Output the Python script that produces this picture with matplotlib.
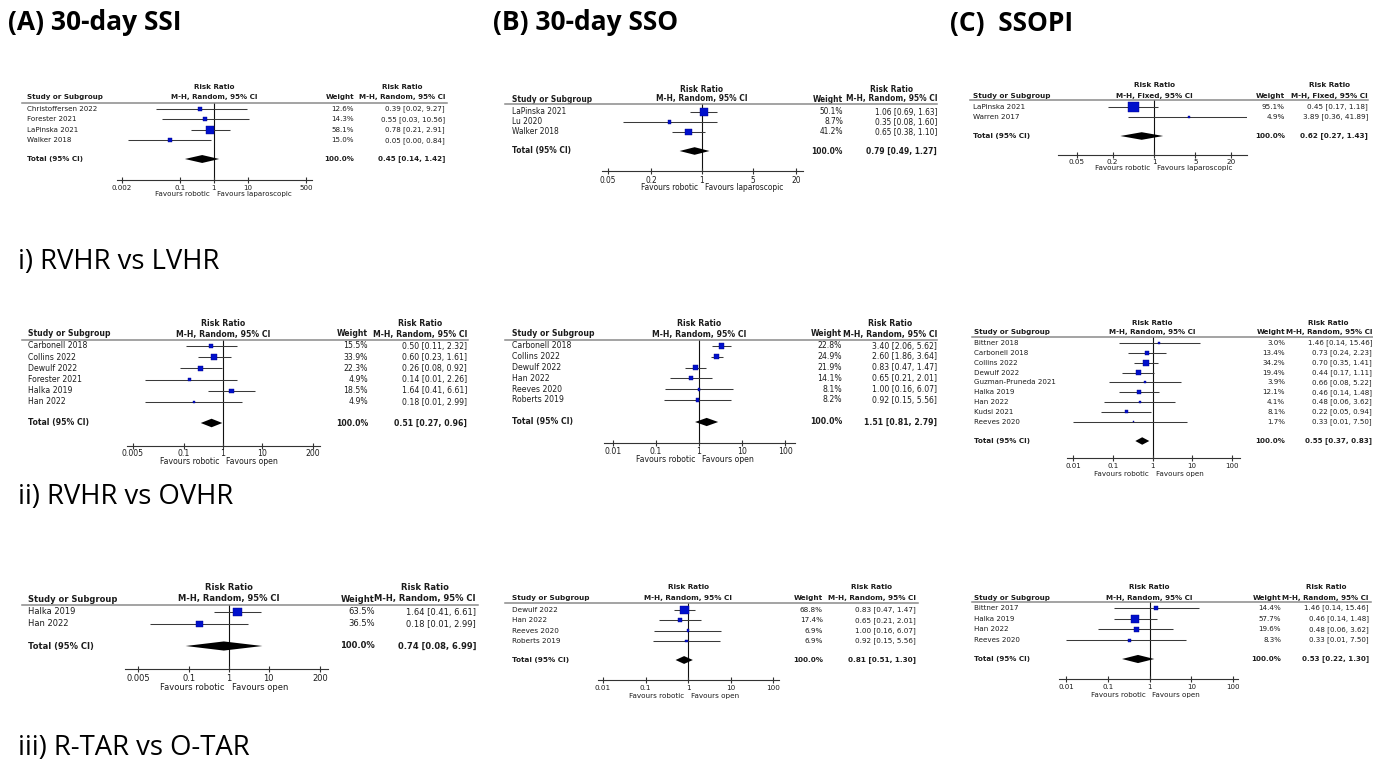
import numpy as np
import matplotlib
matplotlib.use('Agg')
import matplotlib.pyplot as plt
from matplotlib.transforms import blended_transform_factory
from matplotlib.lines import Line2D

W, H = 1373, 764

# ---------------- data ----------------
# (A) 30-day SSI
ssi_lap_studies = ["Christoffersen 2022", "Forester 2021", "LaPinska 2021", "Walker 2018"]
ssi_lap_weight = [12.6, 14.3, 58.1, 15.0]
ssi_lap_rr = [0.39, 0.55, 0.78, 0.05]
ssi_lap_lo = [0.02, 0.03, 0.21, 0.003]
ssi_lap_hi = [9.27, 10.56, 2.91, 0.84]
ssi_lap_total = (0.45, 0.14, 1.42)

ssi_open_studies = ["Carbonell 2018", "Collins 2022", "Dewulf 2022", "Forester 2021", "Halka 2019", "Han 2022"]
ssi_open_weight = [15.5, 33.9, 22.3, 4.9, 18.5, 4.9]
ssi_open_rr = [0.50, 0.60, 0.26, 0.14, 1.64, 0.18]
ssi_open_lo = [0.11, 0.23, 0.08, 0.01, 0.41, 0.01]
ssi_open_hi = [2.32, 1.61, 0.92, 2.26, 6.61, 2.99]
ssi_open_total = (0.51, 0.27, 0.96)

ssi_tar_studies = ["Halka 2019", "Han 2022"]
ssi_tar_weight = [63.5, 36.5]
ssi_tar_rr = [1.64, 0.18]
ssi_tar_lo = [0.41, 0.01]
ssi_tar_hi = [6.61, 2.99]
ssi_tar_total = (0.74, 0.08, 6.99)

# (B) 30-day SSO
sso_lap_studies = ["LaPinska 2021", "Lu 2020", "Walker 2018"]
sso_lap_weight = [50.1, 8.7, 41.2]
sso_lap_rr = [1.06, 0.35, 0.65]
sso_lap_lo = [0.69, 0.08, 0.38]
sso_lap_hi = [1.63, 1.60, 1.10]
sso_lap_total = (0.79, 0.49, 1.27)

sso_open_studies = ["Carbonell 2018", "Collins 2022", "Dewulf 2022", "Han 2022", "Reeves 2020", "Roberts 2019"]
sso_open_weight = [22.8, 24.9, 21.9, 14.1, 8.1, 8.2]
sso_open_rr = [3.40, 2.60, 0.83, 0.65, 1.00, 0.92]
sso_open_lo = [2.06, 1.86, 0.47, 0.21, 0.16, 0.15]
sso_open_hi = [5.62, 3.64, 1.47, 2.01, 6.07, 5.56]
sso_open_total = (1.51, 0.81, 2.79)

sso_tar_studies = ["Dewulf 2022", "Han 2022", "Reeves 2020", "Roberts 2019"]
sso_tar_weight = [68.8, 17.4, 6.9, 6.9]
sso_tar_rr = [0.83, 0.65, 1.00, 0.92]
sso_tar_lo = [0.47, 0.21, 0.16, 0.15]
sso_tar_hi = [1.47, 2.01, 6.07, 5.56]
sso_tar_total = (0.81, 0.51, 1.30)

# (C) SSOPI
ssopi_lap_studies = ["LaPinska 2021", "Warren 2017"]
ssopi_lap_weight = [95.1, 4.9]
ssopi_lap_rr = [0.45, 3.89]
ssopi_lap_lo = [0.17, 0.36]
ssopi_lap_hi = [1.18, 41.89]
ssopi_lap_total = (0.62, 0.27, 1.43)

ssopi_open_studies = ["Bittner 2018", "Carbonell 2018", "Collins 2022", "Dewulf 2022", "Guzman-Pruneda 2021",
                      "Halka 2019", "Han 2022", "Kudsi 2021", "Reeves 2020"]
ssopi_open_weight = [3.0, 13.4, 34.2, 19.4, 3.9, 12.1, 4.1, 8.1, 1.7]
ssopi_open_rr = [1.46, 0.73, 0.70, 0.44, 0.66, 0.46, 0.48, 0.22, 0.33]
ssopi_open_lo = [0.14, 0.24, 0.35, 0.17, 0.08, 0.14, 0.06, 0.05, 0.01]
ssopi_open_hi = [15.46, 2.23, 1.41, 1.11, 5.22, 1.48, 3.62, 0.94, 7.50]
ssopi_open_total = (0.55, 0.37, 0.83)

ssopi_tar_studies = ["Bittner 2017", "Halka 2019", "Han 2022", "Reeves 2020"]
ssopi_tar_weight = [14.4, 57.7, 19.6, 8.3]
ssopi_tar_rr = [1.46, 0.46, 0.48, 0.33]
ssopi_tar_lo = [0.14, 0.14, 0.06, 0.01]
ssopi_tar_hi = [15.46, 1.48, 3.62, 7.50]
ssopi_tar_total = (0.53, 0.22, 1.30)

ticks_a = [0.002, 0.1, 1, 10, 500]
ticks_b = [0.005, 0.1, 1, 10, 200]
ticks_c = [0.05, 0.2, 1, 5, 20]
ticks_d = [0.01, 0.1, 1, 10, 100]
tick_labels_a = ["0.002", "0.1", "1", "10", "500"]
tick_labels_b = ["0.005", "0.1", "1", "10", "200"]
tick_labels_c = ["0.05", "0.2", "1", "5", "20"]
tick_labels_d = ["0.01", "0.1", "1", "10", "100"]

fav_lap = ("Favours robotic", "Favours laparoscopic")
fav_open = ("Favours robotic", "Favours open")
random_ci = "M-H, Random, 95% CI"
fixed_ci = "M-H, Fixed, 95% CI"

# ---------------- layout (pixel positions in the 1373x764 picture) ----------------
# y: header1, header2, rule, first row, row step, total row, axis, tick labels, favours
layouts = {
    'A1': dict(xs=27, ll=22, lr=447, tp=(0.002, 122, 500, 306), al=117, ar=312,
               y=(87, 97, 103, 109, 10.4, 159, 180, 187, 194), wr=354, cr=445, fs=5.1),
    'B1': dict(xs=512, ll=505, lr=937, tp=(0.05, 608, 20, 796), al=602, ar=803,
               y=(89, 99, 104, 112, 10.0, 151, 171, 179, 188), wr=843, cr=937, fs=5.45),
    'C1': dict(xs=973, ll=970, lr=1368, tp=(0.05, 1077, 20, 1231), al=1058, ar=1247,
               y=(85, 96, 100, 107, 10.0, 136, 155, 161, 168), wr=1285, cr=1368, fs=5.2),
    'A2': dict(xs=28, ll=22, lr=468, tp=(0.005, 133, 200, 313), al=127, ar=320,
               y=(323, 334, 340, 346, 11.2, 423, 446, 452, 462), wr=368, cr=467, fs=5.6),
    'B2': dict(xs=512, ll=505, lr=937, tp=(0.01, 613, 100, 785), al=604, ar=795,
               y=(323, 334, 340, 346, 10.8, 422, 443, 450, 460), wr=842, cr=937, fs=5.6),
    'C2': dict(xs=974, ll=972, lr=1373, tp=(0.01, 1073, 100, 1232), al=1067, ar=1240,
               y=(323, 332, 337, 343, 9.85, 441, 458, 465, 474), wr=1285, cr=1372, fs=5.1),
    'A3': dict(xs=28, ll=22, lr=478, tp=(0.005, 138, 200, 320), al=125, ar=328,
               y=(587, 599, 605, 612, 12.0, 646, 669, 677, 687), wr=375, cr=476, fs=6.0),
    'B3': dict(xs=512, ll=505, lr=918, tp=(0.01, 603, 100, 773), al=598, ar=779,
               y=(587, 598, 603, 610, 10.3, 660, 680, 687, 696), wr=823, cr=916, fs=5.2),
    'C3': dict(xs=974, ll=972, lr=1371, tp=(0.01, 1066, 100, 1233), al=1059, ar=1238,
               y=(587, 598, 602, 608, 10.7, 659, 679, 686, 695), wr=1281, cr=1369, fs=5.15),
}

panels = [
    ('A1', ssi_lap_studies, ssi_lap_weight, ssi_lap_rr, ssi_lap_lo, ssi_lap_hi, ssi_lap_total,
     ticks_a, tick_labels_a, fav_lap, random_ci),
    ('B1', sso_lap_studies, sso_lap_weight, sso_lap_rr, sso_lap_lo, sso_lap_hi, sso_lap_total,
     ticks_c, tick_labels_c, fav_lap, random_ci),
    ('C1', ssopi_lap_studies, ssopi_lap_weight, ssopi_lap_rr, ssopi_lap_lo, ssopi_lap_hi, ssopi_lap_total,
     ticks_c, tick_labels_c, fav_lap, fixed_ci),
    ('A2', ssi_open_studies, ssi_open_weight, ssi_open_rr, ssi_open_lo, ssi_open_hi, ssi_open_total,
     ticks_b, tick_labels_b, fav_open, random_ci),
    ('B2', sso_open_studies, sso_open_weight, sso_open_rr, sso_open_lo, sso_open_hi, sso_open_total,
     ticks_d, tick_labels_d, fav_open, random_ci),
    ('C2', ssopi_open_studies, ssopi_open_weight, ssopi_open_rr, ssopi_open_lo, ssopi_open_hi, ssopi_open_total,
     ticks_d, tick_labels_d, fav_open, random_ci),
    ('A3', ssi_tar_studies, ssi_tar_weight, ssi_tar_rr, ssi_tar_lo, ssi_tar_hi, ssi_tar_total,
     ticks_b, tick_labels_b, fav_open, random_ci),
    ('B3', sso_tar_studies, sso_tar_weight, sso_tar_rr, sso_tar_lo, sso_tar_hi, sso_tar_total,
     ticks_d, tick_labels_d, fav_open, random_ci),
    ('C3', ssopi_tar_studies, ssopi_tar_weight, ssopi_tar_rr, ssopi_tar_lo, ssopi_tar_hi, ssopi_tar_total,
     ticks_d, tick_labels_d, fav_open, random_ci),
]

TXT = '#1c1c1c'

fig = plt.figure(figsize=(W / 100, H / 100), dpi=100)
renderer = fig.canvas.get_renderer()


def draw_panel(key, studies, weight, rr, lo, hi, total, ticks, tick_labels, favours, method):
    lay = layouts[key]
    h1, h2, rule, first, sp, ytot, yaxis, ytl, yfav = lay['y']
    fs = lay['fs']
    v1, p1, v2, p2 = lay['tp']
    k = (np.log10(v2) - np.log10(v1)) / (p2 - p1)
    xl = 10 ** (np.log10(v1) + (lay['al'] - p1) * k)
    xr = 10 ** (np.log10(v1) + (lay['ar'] - p1) * k)

    def yrow(py):
        return (py - first) / sp

    ax = fig.add_axes([lay['al'] / W, 1 - yaxis / H, (lay['ar'] - lay['al']) / W, (yaxis - rule) / H])
    ax.set_xscale('log')
    ax.set_xlim(xl, xr)
    ax.set_ylim(yrow(yaxis), yrow(rule))
    ax.patch.set_visible(False)
    for s in ['top', 'left', 'right']:
        ax.spines[s].set_visible(False)
    ax.spines['bottom'].set_linewidth(0.8)
    ax.spines['bottom'].set_color('#333333')
    ax.set_yticks([])
    ax.set_xticks(ticks)
    ax.set_xticklabels(tick_labels)
    ax.xaxis.set_minor_locator(plt.NullLocator())
    fs_px = fs * 100 / 72
    pad = max(0.0, (ytl - yaxis) - 2.5 - 0.38 * fs_px) * 0.72
    ax.tick_params(axis='x', direction='inout', length=4, width=0.8, labelsize=fs,
                   pad=pad, colors='#333333', labelcolor=TXT)

    n = len(studies)
    ys = np.arange(n)
    yt = yrow(ytot)

    ax.axvline(1, color='#111111', lw=0.8, zorder=1)
    ax.hlines(ys, lo, hi, color='#3a3a3a', lw=0.75, zorder=2)
    side = 1.05 * np.sqrt(np.array(weight)) * 0.72
    ax.scatter(rr, ys, marker='s', s=side ** 2, color='#0010cc', edgecolors='#000088',
               linewidths=0.3, zorder=3)
    t_rr, t_lo, t_hi = total
    dh = 0.38
    ax.fill([t_lo, t_rr, t_hi, t_rr], [yt, yt - dh, yt, yt + dh], color='black', lw=0, zorder=3)

    tr = blended_transform_factory(fig.transFigure, ax.transData)
    fig.add_artist(Line2D([lay['ll'] / W, lay['lr'] / W], [1 - rule / H] * 2,
                          color='#8a8a8a', lw=1.1))

    kw = dict(transform=tr, fontsize=fs, color=TXT, va='center', clip_on=False)
    for i, name in enumerate(studies):
        ax.text(lay['xs'] / W, i, name, ha='left', **kw)
        ax.text(lay['wr'] / W, i, f"{weight[i]:.1f}%", ha='right', **kw)
        ax.text(lay['cr'] / W, i, f"{rr[i]:.2f} [{lo[i]:.2f}, {hi[i]:.2f}]", ha='right', **kw)
    ax.text(lay['xs'] / W, yt, "Total (95% CI)", ha='left', fontweight='bold', **kw)
    ax.text(lay['wr'] / W, yt, "100.0%", ha='right', fontweight='bold', **kw)
    ax.text(lay['cr'] / W, yt, f"{t_rr:.2f} [{t_lo:.2f}, {t_hi:.2f}]", ha='right',
            fontweight='bold', **kw)

    # headers
    ax.text(lay['xs'] / W, yrow(h2), "Study or Subgroup", ha='left', fontweight='bold', **kw)
    ax.text(lay['wr'] / W, yrow(h2), "Weight", ha='right', fontweight='bold', **kw)
    t2 = ax.text(lay['cr'] / W, yrow(h2), method, ha='right', fontweight='bold', **kw)
    bb = t2.get_window_extent(renderer)
    cx = (bb.x0 + bb.x1) / 2 / fig.bbox.width
    ax.text(cx, yrow(h1), "Risk Ratio", ha='center', fontweight='bold', **kw)
    kw2 = dict(fontsize=fs, color=TXT, va='center', clip_on=False, fontweight='bold')
    ax.text(1, yrow(h1), "Risk Ratio", ha='center', **kw2)
    ax.text(1, yrow(h2), method, ha='center', **kw2)

    # favours labels under the axis
    ax.annotate(favours[0], xy=(1, yrow(yfav)), xytext=(-4, 0), textcoords='offset pixels',
                ha='right', va='center', fontsize=fs, color=TXT, annotation_clip=False)
    ax.annotate(favours[1], xy=(1, yrow(yfav)), xytext=(3, 0), textcoords='offset pixels',
                ha='left', va='center', fontsize=fs, color=TXT, annotation_clip=False)


for p in panels:
    draw_panel(*p)

# column titles and row labels
title_font = ['Open Sans', 'DejaVu Sans']
fig.text(8 / W, 1 - 23 / H, "(A) 30-day SSI", fontsize=19, fontweight='bold',
         family=title_font, va='center', ha='left')
fig.text(493 / W, 1 - 23 / H, "(B) 30-day SSO", fontsize=19, fontweight='bold',
         family=title_font, va='center', ha='left')
fig.text(950 / W, 1 - 23 / H, "(C)  SSOPI", fontsize=19, fontweight='bold',
         family=title_font, va='center', ha='left')

row_font = ['Open Sans', 'DejaVu Sans']
fig.text(18 / W, 1 - 262 / H, "i) RVHR vs LVHR", fontsize=19.8, family=row_font, va='center', ha='left')
fig.text(18 / W, 1 - 497 / H, "ii) RVHR vs OVHR", fontsize=19.8, family=row_font, va='center', ha='left')
fig.text(18 / W, 2 / H, "iii) R-TAR vs O-TAR", fontsize=19.8, family=row_font, va='bottom', ha='left')

fig.savefig('out.png', dpi=100)
